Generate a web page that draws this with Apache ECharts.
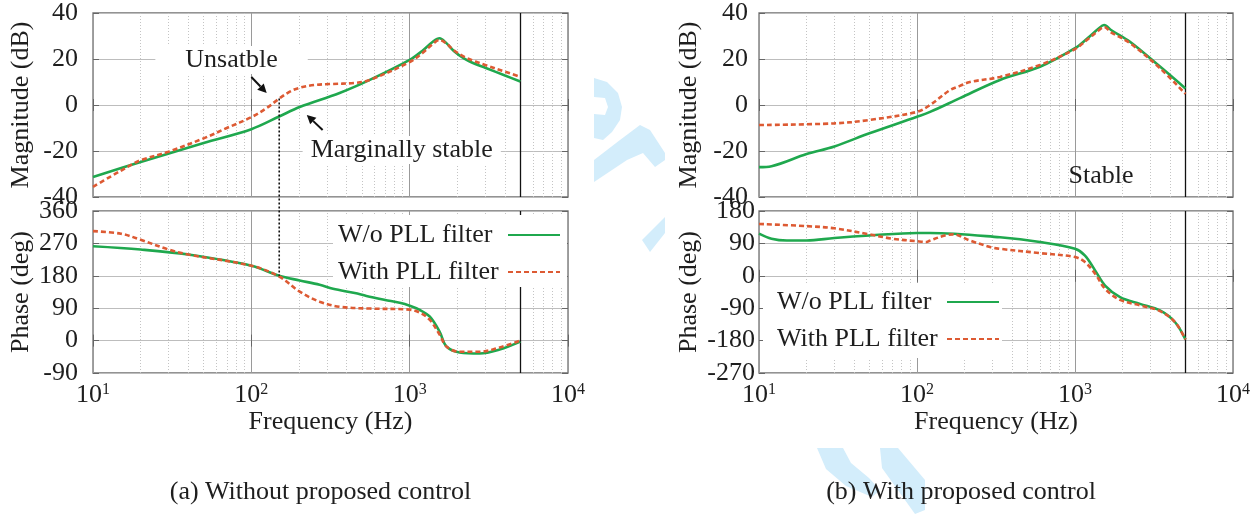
<!DOCTYPE html>
<html><head><meta charset="utf-8">
<script src="https://cdn.jsdelivr.net/npm/echarts@6/dist/echarts.min.js"></script>
<style>html,body{margin:0;padding:0;background:#fff}#c{width:1255px;height:514px}</style>
</head><body><div id="c"></div>
<script>
// ---------------- DATA ----------------
const SERIES_NAMES = ['W/o PLL filter', 'With PLL filter'];
const minorFreqs = [20,30,40,50,60,70,80,90,200,300,400,500,600,700,800,900,2000,3000,4000,5000,6000,7000,8000,9000];
const limitFreq = 5000;

// (a) Without proposed control — magnitude (dB)
const fA_mag_wo = [10, 20, 50, 100, 150, 202, 361, 560, 1000, 1200, 1400, 1545, 1700, 1900, 2200, 2600, 3000, 4000, 5000];
const A_mag_wo  = [-31.3, -24.8, -16.5, -10.5, -5, -0.9, 5.2, 10.9, 19.6, 23.5, 27.5, 29, 27, 23.5, 20.3, 17.8, 16.2, 12.8, 10.2];
const fA_mag_w  = [10, 13, 17.9, 20, 30, 50, 70, 100, 125, 150, 175, 202, 250, 313, 450, 560, 1000, 1200, 1400, 1545, 1700, 1900, 2200, 2600, 3000, 4000, 5000];
const A_mag_w   = [-35.6, -31, -25.6, -24, -20.3, -14.5, -10, -5.3, -1.3, 2.8, 5.8, 7.5, 8.7, 9.1, 9.6, 10.9, 18.7, 22.5, 26.5, 28.3, 26.8, 23.8, 21, 18.9, 17.4, 14.5, 12.2];
// (a) phase (deg)
const fA_ph_wo = [10, 20, 40, 100, 150, 202, 270, 328, 450, 533, 700, 865, 1000, 1150, 1337, 1545, 1712, 2065, 2767, 3700, 5000];
const A_ph_wo  = [262, 253, 239, 208, 180, 167, 155, 144, 132, 124, 113, 105, 97, 86, 67, 25, -17, -33, -36, -25, -3];
const fA_ph_w  = [10, 15, 20, 30, 40, 100, 150, 202, 270, 361, 560, 1000, 1155, 1337, 1545, 1712, 2065, 2767, 3700, 5000];
const A_ph_w   = [304, 297, 280, 253, 239, 208, 178, 136, 108, 94, 89, 86, 78, 58, 17, -17, -31, -31, -19, 0];

// (b) With proposed control — magnitude (dB)
const fB_mag_wo = [10, 12, 20, 30, 50, 100, 121, 187, 335, 600, 1000, 1200, 1400, 1528, 1700, 2228, 3450, 5000];
const B_mag_wo  = [-27, -26.6, -21.3, -18, -12.3, -5.1, -3, 3, 10.9, 16.6, 24.7, 29, 33, 34.8, 32.5, 27.5, 16.7, 7.2];
const fB_mag_w  = [10, 30, 50, 100, 121, 162, 187, 216, 335, 600, 1000, 1200, 1400, 1528, 1700, 2228, 3450, 5000];
const B_mag_w   = [-8.7, -8, -6.5, -3, 0, 6.5, 8.3, 10, 12.2, 17.4, 24.3, 28.5, 32.2, 33.9, 31.5, 26.9, 16, 4.8];
// (b) phase (deg)
const fB_ph_wo = [10, 12, 15, 20, 30, 50, 100, 121, 335, 600, 1000, 1157, 1340, 1550, 1928, 2578, 3450, 4300, 5000];
const B_ph_wo  = [117, 103, 98, 98, 105, 112, 119, 119, 107, 94, 75, 56, 15, -27, -59, -78, -96, -129, -177];
const fB_ph_w  = [10, 20, 30, 50, 70, 100, 115, 121, 150, 169, 216, 290, 335, 600, 1000, 1157, 1340, 1550, 1928, 2578, 3450, 4300, 5000];
const B_ph_w   = [144, 138, 132, 115, 103, 96, 94, 98, 112, 115, 98, 80, 75, 63, 52, 38, 6, -36, -67, -82, -98, -129, -177];

// annotations
const annoTextsA = [{text:'Unsatble', f:75, v:19.6, pad:[1,30]}, {text:'Marginally stable', f:891, v:-19.6, pad:[1,8]}];
const annoTextsB = [{text:'Stable', f:1462, v:-30.9}];
const arrowsA = [{from:[100,12.2], to:[125,5.2]}, {from:[282,-10.9], to:[224,-4.3]}];
const marker = {f:150, mag:2.8, phase:180};
const captions = ['(a) Without proposed control', '(b) With proposed control'];

// ---------------- CHART ----------------
const FONT = 'Liberation Serif';
const FS = 26;
const TXT = '#1e1e1e';
const GREEN = '#1fa84e';
const RED = '#dd5a33';
const zip = (a, b) => a.map((x, i) => [x, b[i]]);

const gridRects = [
  {left:93, top:13, width:475, height:184},
  {left:93, top:211, width:475, height:162},
  {left:759, top:13, width:474, height:184},
  {left:759, top:211, width:474, height:162}
];

function xAx(gi, pos, showLabel) {
  return {
    type:'log', logBase:10, min:10, max:10000, gridIndex:gi, position:pos,
    axisLine:{show:false},
    axisTick:{show:true, inside:true, length:6, lineStyle:{color:'#666'}},
    axisLabel:{show:showLabel, margin:9, color:TXT, fontFamily:FONT, fontSize:FS, lineHeight:26,
      formatter: v => '10{s|' + Math.round(Math.log10(v)) + '}',
      rich:{s:{fontSize:16, fontFamily:FONT, color:TXT, lineHeight:14, verticalAlign:'top'}}},
    splitLine:{show:pos==='bottom', lineStyle:{color:'#9a9a9a', width:1}},
    name: showLabel ? 'Frequency (Hz)' : '', nameLocation:'middle', nameGap:35,
    nameTextStyle:{fontFamily:FONT, fontSize:FS, color:TXT}
  };
}
function yAx(gi, pos, min, max, interval, name, margin, nameGap) {
  return {
    type:'value', gridIndex:gi, position:pos, min, max, interval,
    axisLine:{show:false},
    axisTick:{show:true, inside:true, length:6, lineStyle:{color:'#666'}},
    axisLabel:{show:pos==='left', margin, color:TXT, fontFamily:FONT, fontSize:FS},
    splitLine:{show:pos==='left', lineStyle:{color:'#bdbdbd', width:1}},
    name: pos==='left' ? name : '', nameLocation:'middle', nameGap:nameGap || 0,
    nameTextStyle:{fontFamily:FONT, fontSize:FS, color:TXT}
  };
}

const xAxis = [
  xAx(0,'bottom',false), xAx(1,'bottom',true), xAx(2,'bottom',false), xAx(3,'bottom',true),
  xAx(0,'top',false), xAx(1,'top',false), xAx(2,'top',false), xAx(3,'top',false)
];
const yAxis = [
  yAx(0,'left',-40,40,20,'Magnitude (dB)',15,59),
  yAx(1,'left',-90,360,90,'Phase (deg)',15,59),
  yAx(2,'left',-40,40,20,'Magnitude (dB)',11,57),
  yAx(3,'left',-270,180,90,'Phase (deg)',4,57),
  yAx(0,'right',-40,40,20,'',0), yAx(1,'right',-90,360,90,'',0),
  yAx(2,'right',-40,40,20,'',0), yAx(3,'right',-270,180,90,'',0)
];

function gridSeries(gi) {
  return {
    type:'line', name:'grid'+gi, xAxisIndex:gi, yAxisIndex:gi, data:[], silent:true, z:1,
    markLine:{silent:true, z:2, symbol:['none','none'], label:{show:false}, animation:false,
      data: minorFreqs.map(v => ({xAxis:v, lineStyle:{type:[1,2], color:'#c4c4c4', width:1}}))
        .concat([{xAxis:limitFreq, lineStyle:{type:'solid', color:'#111', width:1.3}}])}
  };
}
function curve(gi, name, data, dashed) {
  return {
    type:'line', name, xAxisIndex:gi, yAxisIndex:gi, data, smooth:0.35, symbol:'none', z:3,
    lineStyle:{color: dashed ? RED : GREEN, width:2.6, type: dashed ? [5,3] : 'solid'},
    itemStyle:{color: dashed ? RED : GREEN}
  };
}

const series = [
  gridSeries(0), gridSeries(1), gridSeries(2), gridSeries(3),
  curve(0, SERIES_NAMES[0], zip(fA_mag_wo, A_mag_wo), false),
  curve(0, SERIES_NAMES[1], zip(fA_mag_w, A_mag_w), true),
  curve(1, SERIES_NAMES[0], zip(fA_ph_wo, A_ph_wo), false),
  curve(1, SERIES_NAMES[1], zip(fA_ph_w, A_ph_w), true),
  curve(2, SERIES_NAMES[0], zip(fB_mag_wo, B_mag_wo), false),
  curve(2, SERIES_NAMES[1], zip(fB_mag_w, B_mag_w), true),
  curve(3, SERIES_NAMES[0], zip(fB_ph_wo, B_ph_wo), false),
  curve(3, SERIES_NAMES[1], zip(fB_ph_w, B_ph_w), true)
];

const legendBase = {
  data: SERIES_NAMES, orient:'vertical', align:'right', selectedMode:false,
  backgroundColor:'#fff', itemWidth:52, itemHeight:14, itemGap:11, z:10,
  itemStyle:{opacity:0, color:'rgba(0,0,0,0)', borderWidth:0},
  formatter: n => '{a|' + n + '}',
  textStyle:{fontFamily:FONT, fontSize:FS, color:TXT, lineHeight:26,
    rich:{a:{width:165, align:'left', fontFamily:FONT, fontSize:FS, color:TXT, lineHeight:26}}}
};

const chart = echarts.init(document.getElementById('c'), null, {renderer:'canvas'});

// light-blue watermark fragments peeking between the figure panels (decoration)
const wmColor = '#d3edfb';
const watermark = [
  [[594,78],[607,82],[618,93],[622,107],[620,120],[612,132],[603,140],[594,138],[594,114],[605,115],[608,107],[605,98],[594,97]],
  [[594,160],[620,140],[640,125],[650,130],[665,153],[665,160],[655,167],[643,153],[627,160],[594,182]],
  [[642,240],[665,217],[665,233],[650,252]],
  [[817,448],[843,448],[851,463],[869,478],[880,490],[872,497],[846,486],[826,469]],
  [[880,448],[898,448],[925,480],[925,510],[915,514],[905,500],[882,468]]
].map(pts => ({type:'polygon', z:-10, silent:true, shape:{points:pts}, style:{fill:wmColor}}));

chart.setOption({
  animation:false,
  backgroundColor:'#fff',
  grid: gridRects.map(g => Object.assign({show:true, borderColor:'#707070', borderWidth:1.3, backgroundColor:'transparent', containLabel:false}, g)),
  xAxis, yAxis, series,
  legend:[
    Object.assign({}, legendBase, {left:333, top:215, padding:[7,6,2,5]}),
    Object.assign({}, legendBase, {left:763, top:283, padding:[6,2,6,14]})
  ]
});

// ---------------- ANNOTATIONS ----------------
const toPx = (gi, f, v) => chart.convertToPixel({xAxisIndex:gi, yAxisIndex:gi}, [f, v]);
const graphics = watermark.slice();
function addText(p, t, pad) {
  graphics.push({type:'text', x:p[0], y:p[1], z:50,
    style:{text:t, fontFamily:FONT, fontSize:FS, fill:TXT, align:'center', verticalAlign:'middle',
      backgroundColor: pad ? '#fff' : null, padding: pad || 0}});
}
function addArrow(p1, p2) {
  const dx = p2[0]-p1[0], dy = p2[1]-p1[1], L = Math.hypot(dx, dy);
  const ux = dx/L, uy = dy/L, hl = 9, hw = 4.5;
  const bx = p2[0]-ux*hl, by = p2[1]-uy*hl;
  graphics.push({type:'line', z:50, shape:{x1:p1[0], y1:p1[1], x2:bx, y2:by}, style:{stroke:'#111', lineWidth:2}});
  graphics.push({type:'polygon', z:50, shape:{points:[[p2[0],p2[1]],[bx-uy*hw, by+ux*hw],[bx+uy*hw, by-ux*hw]]}, style:{fill:'#111'}});
}
annoTextsA.forEach(a => addText(toPx(0, a.f, a.v), a.text, a.pad));
annoTextsB.forEach(a => addText(toPx(2, a.f, a.v), a.text, a.pad));
arrowsA.forEach(a => addArrow(toPx(0, a.from[0], a.from[1]), toPx(0, a.to[0], a.to[1])));
const m1 = toPx(0, marker.f, marker.mag), m2 = toPx(1, marker.f, marker.phase);
graphics.push({type:'line', z:40, shape:{x1:m1[0], y1:m1[1], x2:m2[0], y2:m2[1]}, style:{stroke:'#111', lineWidth:1.6, lineDash:[2,2]}});
[0, 2].forEach((gi, k) => {
  const g = gridRects[gi];
  graphics.push({type:'text', x:g.left + g.width/2 - (k===0 ? 10 : 35), y:492, z:50,
    style:{text:captions[k], fontFamily:FONT, fontSize:FS, fill:TXT, align:'center', verticalAlign:'middle'}});
});
chart.setOption({graphic: graphics});
</script>
</body></html>
